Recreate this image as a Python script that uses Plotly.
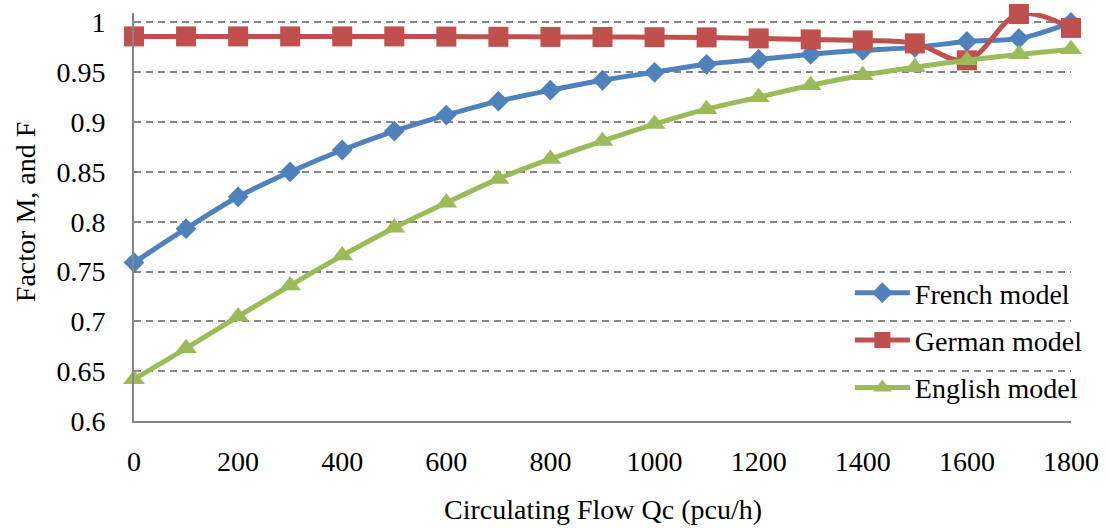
import plotly.graph_objects as go

# Circulating flow (pcu/h)
flow = [0, 100, 200, 300, 400, 500, 600, 700, 800, 900,
        1000, 1100, 1200, 1300, 1400, 1500, 1600, 1700, 1800]

french = [0.759, 0.793, 0.825, 0.850, 0.872, 0.891, 0.907, 0.921, 0.932, 0.942,
          0.950, 0.958, 0.963, 0.968, 0.972, 0.975, 0.981, 0.984, 1.000]
german = [0.986, 0.986, 0.986, 0.986, 0.986, 0.986, 0.9858, 0.9856, 0.9855, 0.9854,
          0.9852, 0.985, 0.984, 0.983, 0.982, 0.979, 0.962, 1.0085, 0.9945]
english = [0.642, 0.673, 0.705, 0.736, 0.766, 0.794, 0.819, 0.843, 0.863, 0.881,
           0.898, 0.913, 0.925, 0.937, 0.947, 0.955, 0.962, 0.968, 0.973]

y_ticks = [0.6, 0.65, 0.7, 0.75, 0.8, 0.85, 0.9, 0.95, 1.0]
y_tick_text = ["0.6", "0.65", "0.7", "0.75", "0.8", "0.85", "0.9", "0.95", "1"]
x_ticks = [0, 200, 400, 600, 800, 1000, 1200, 1400, 1600, 1800]

FONT = "Liberation Serif, Times New Roman, serif"
FS = 28

series = [
    ("French model", french, "#4F81BD", "diamond", 16),
    ("German model", german, "#C0504D", "square", 20),
    ("English model", english, "#9BBB59", "triangle-up", 19),
]

fig = go.Figure()
for name, vals, color, sym, size in series:
    fig.add_trace(go.Scatter(
        x=flow, y=vals, name=name, mode="lines+markers",
        legendgroup=name, cliponaxis=False,
        line=dict(color=color, width=5, shape="spline", smoothing=1.0),
        marker=dict(symbol=sym, size=size, color=color, line=dict(width=0)),
    ))

fig.update_layout(
    template="none",
    width=1110, height=529,
    margin=dict(l=134, r=39, t=13, b=108),
    paper_bgcolor="white", plot_bgcolor="white",
    font=dict(family=FONT, size=FS, color="black"),
    showlegend=True,
    legend=dict(
        x=0.764, y=0.375, xanchor="left", yanchor="top",
        bgcolor="rgba(0,0,0,0)", borderwidth=0,
        font=dict(family=FONT, size=FS, color="black"),
        itemwidth=55, tracegroupgap=8,
    ),
    annotations=[
        dict(text="Circulating Flow Qc (pcu/h)", xref="paper", yref="paper",
             x=0.5, y=-0.218, xanchor="center", yanchor="middle",
             showarrow=False, font=dict(family=FONT, size=FS, color="black")),
        dict(text="Factor M, and F", xref="paper", yref="paper",
             x=-0.1163, y=0.512, xanchor="center", yanchor="middle",
             textangle=-90, showarrow=False,
             font=dict(family=FONT, size=FS, color="black")),
    ],
)

fig.update_xaxes(
    range=[0, 1800], tickvals=x_ticks, showgrid=False, zeroline=False,
    automargin=False,
    showline=True, linecolor="#868686", linewidth=2,
    ticks="outside", ticklen=14, tickcolor="rgba(0,0,0,0)",
)
fig.update_yaxes(
    range=[0.6, 1.0095], tickvals=y_ticks, ticktext=y_tick_text,
    automargin=False,
    showgrid=True, gridcolor="#868686", gridwidth=1.8, griddash="7px,5px",
    zeroline=False, showline=True, linecolor="#868686", linewidth=2,
    ticks="outside", ticklen=21, tickcolor="rgba(0,0,0,0)",
)

fig.write_html("out.html")
